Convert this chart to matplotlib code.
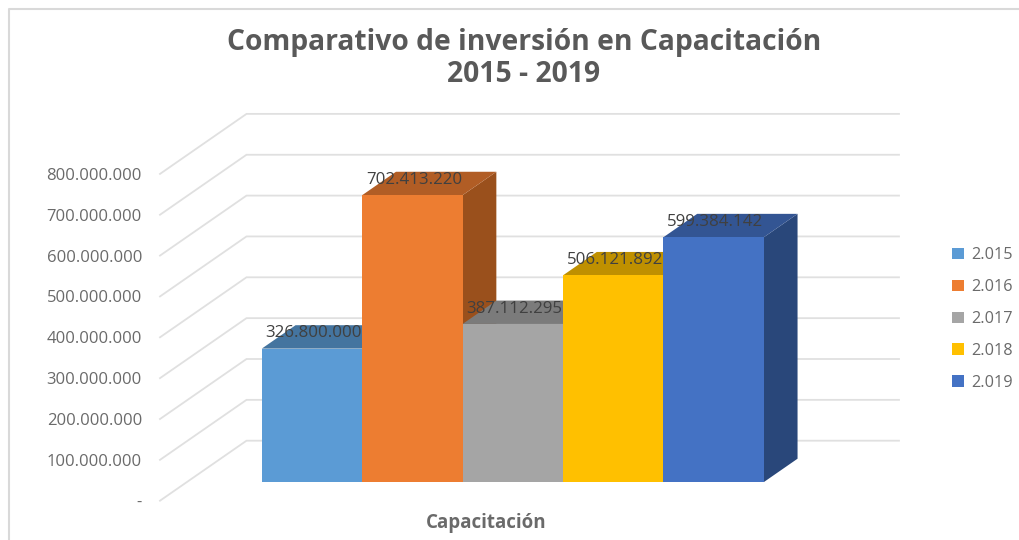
import matplotlib
matplotlib.use("Agg")
import matplotlib.pyplot as plt
from matplotlib.lines import Line2D
from matplotlib.patches import Patch, Polygon

TITLE = "Comparativo de inversión en Capacitación\n2015 - 2019"
CATEGORY = "Capacitación"
YEARS = ["2.015", "2.016", "2.017", "2.018", "2.019"]
VALUES = [326800000, 702413220, 387112295, 506121892, 599384142]
VALUE_LABELS = ["326.800.000", "702.413.220", "387.112.295", "506.121.892", "599.384.142"]
TICKS = [0, 100000000, 200000000, 300000000, 400000000, 500000000, 600000000, 700000000, 800000000]
TICK_LABELS = ["-", "100.000.000", "200.000.000", "300.000.000", "400.000.000",
               "500.000.000", "600.000.000", "700.000.000", "800.000.000"]
FRONT_COLORS = ["#5B9BD5", "#ED7D31", "#A5A5A5", "#FFC000", "#4472C4"]
TOP_COLORS = ["#44749F", "#B15D25", "#7B7B7B", "#BF9000", "#335593"]
SIDE_COLORS = ["#3A6590", "#9A501C", "#6B6B6B", "#A67D00", "#29477A"]

W, H = 1020, 540
PX_PER_VALUE = 40.85 / 100000000  # vertical pixels for one unit of value
BAR_PX = 100.4  # one bar width in pixels, also the x data unit

# oblique projection: how far the full floor depth shifts things
DEPTH_X = 86.5 / BAR_PX
DEPTH_Y = 60 / PX_PER_VALUE
BAR_D0, BAR_D1 = 0.31, 0.70
BAR_START = 0.747

FONT = "Open Sans"
GREY = "#6A6A6A"


def project(x, value, depth):
    return x + depth * DEPTH_X, value + depth * DEPTH_Y


fig = plt.figure(figsize=(W / 100, H / 100), dpi=100)
ax = fig.add_axes([160 / W, 1 - 500.7 / H, 739 / W, (500.7 - 114) / H])
ax.set_xlim(0, 739 / BAR_PX)
ax.set_ylim(0, (500.7 - 114) / PX_PER_VALUE)
for spine in ax.spines.values():
    spine.set_visible(False)

# walls: each gridline runs up the floor then along the back wall
for tick in TICKS:
    xb, yb = project(0, tick, 1)
    ax.plot([0, xb, ax.get_xlim()[1]], [tick, yb, yb], color="#E0E0E0", lw=1.3,
            clip_on=False, zorder=1, solid_joinstyle="miter")

for i, value in enumerate(VALUES):
    x0, x1 = BAR_START + i, BAR_START + i + 1
    front = [project(x0, 0, BAR_D0), project(x1, 0, BAR_D0),
             project(x1, value, BAR_D0), project(x0, value, BAR_D0)]
    top = [project(x0, value, BAR_D0), project(x1, value, BAR_D0),
           project(x1, value, BAR_D1), project(x0, value, BAR_D1)]
    side = [project(x1, 0, BAR_D0), project(x1, 0, BAR_D1),
            project(x1, value, BAR_D1), project(x1, value, BAR_D0)]
    z = 2 + i
    ax.add_patch(Polygon(side, closed=True, fc=SIDE_COLORS[i], ec="none", zorder=z, clip_on=False))
    ax.add_patch(Polygon(top, closed=True, fc=TOP_COLORS[i], ec="none", zorder=z, clip_on=False))
    ax.add_patch(Polygon(front, closed=True, fc=FRONT_COLORS[i], ec="none", zorder=z, clip_on=False))

for i, value in enumerate(VALUES):
    lx, ly = project(BAR_START + i + 0.5, value, (BAR_D0 + BAR_D1) / 2)
    ax.annotate(VALUE_LABELS[i], (lx - 0.15, ly), xytext=(0, 2.5), textcoords="offset points",
                ha="center", va="center", fontsize=12.2, color="#404040", family=FONT, zorder=10)

ax.set_yticks(TICKS)
ax.set_yticklabels(TICK_LABELS, fontsize=12, color=GREY, family=FONT)
ax.set_xticks([BAR_START + len(VALUES) / 2])
ax.set_xticklabels([CATEGORY], fontsize=13.5, fontweight="bold", color=GREY, family=FONT)
ax.tick_params(axis="y", length=0, pad=13)
ax.tick_params(axis="x", length=0, pad=8.5)

fig.text(524 / W, 1 - 58.5 / H, TITLE, ha="center", va="center", fontsize=20.3, fontweight="bold",
         color="#595959", family=FONT, linespacing=1.15)

handles = [Patch(fc=c, ec="none") for c in FRONT_COLORS]
leg = fig.legend(handles, YEARS, loc="center left", bbox_to_anchor=(952 / W, 1 - 319 / H),
                 frameon=False, handlelength=0.72, handleheight=0.72, handletextpad=0.45,
                 labelspacing=0.98, borderpad=0, borderaxespad=0,
                 prop={"family": FONT, "size": 11.7})
for t in leg.get_texts():
    t.set_color(GREY)

# chart frame, only top and left fall inside the picture
fig.add_artist(Line2D([9 / W, 9 / W, 1], [0, 1 - 8.5 / H, 1 - 8.5 / H], color="#D9D9D9", lw=1.5))

fig.savefig("out.png", dpi=100)
